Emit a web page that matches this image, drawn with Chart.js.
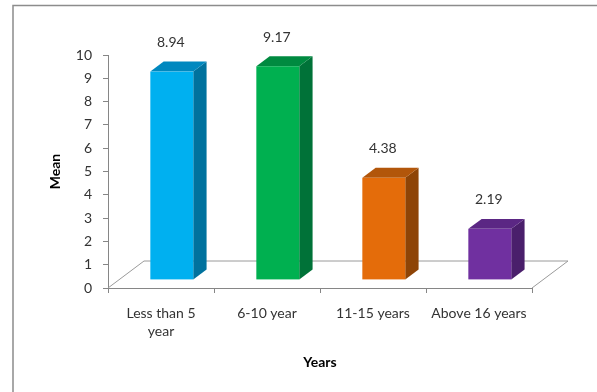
<!DOCTYPE html>
<html>
<head>
<meta charset="utf-8">
<style>
  html, body { margin: 0; padding: 0; background: #ffffff; }
  #wrap { width: 597px; height: 392px; position: relative; }
</style>
<script src="https://cdn.jsdelivr.net/npm/chart.js@4.4.1/dist/chart.umd.min.js"></script>
</head>
<body>
<div id="wrap"><canvas id="chart" width="597" height="392"></canvas></div>
<script>
// Experience groups and their mean scores
const categories = [['Less than 5', 'year'], '6-10 year', '11-15 years', 'Above 16 years'];
const meanValues = [8.94, 9.17, 4.38, 2.19];
const valueLabels = ['8.94', '9.17', '4.38', '2.19'];
const yTickValues = [0, 1, 2, 3, 4, 5, 6, 7, 8, 9, 10];

// Face / side / top shades for each bar
const faceColors = ['#00B0F0', '#00B050', '#E46C0A', '#7030A0'];
const sideColors = ['#00729E', '#007238', '#8E4406', '#4A1F6B'];
const topColors  = ['#0088BF', '#008A40', '#B2560A', '#5B2784'];

const FONT = 'Lato, "Open Sans", sans-serif';
const AXIS_GREY = '#868686';
const TEXT_COLOR = '#333333';

// Floor depth vector and where each bar sits inside that depth
const DEPTH_X = 36, DEPTH_Y = -27;
const BAR_FRONT = 0.3, BAR_BACK = 0.67;

const framePlugin = {
  id: 'frame',
  beforeDraw(chart) {
    const ctx = chart.ctx;
    ctx.save();
    ctx.strokeStyle = '#8c8c8c';
    ctx.lineWidth = 1.5;
    ctx.beginPath();
    ctx.moveTo(13, 392);
    ctx.lineTo(13, 5.5);
    ctx.lineTo(597, 5.5);
    ctx.stroke();
    ctx.restore();
  }
};

const bar3dPlugin = {
  id: 'bar3d',
  beforeDatasetsDraw(chart) {
    // floor outline behind the bars
    const { ctx, chartArea: a } = chart;
    ctx.save();
    ctx.strokeStyle = '#9a9a9a';
    ctx.lineWidth = 1;
    ctx.beginPath();
    ctx.moveTo(a.left, a.bottom);
    ctx.lineTo(a.left + DEPTH_X, a.bottom + DEPTH_Y);
    ctx.lineTo(a.right + DEPTH_X, a.bottom + DEPTH_Y);
    ctx.lineTo(a.right, a.bottom);
    ctx.stroke();
    ctx.restore();
  },
  afterDatasetsDraw(chart) {
    const ctx = chart.ctx;
    const meta = chart.getDatasetMeta(0);
    const fx = DEPTH_X * BAR_FRONT, fy = DEPTH_Y * BAR_FRONT;
    const sx = DEPTH_X * (BAR_BACK - BAR_FRONT), sy = DEPTH_Y * (BAR_BACK - BAR_FRONT);
    ctx.save();
    meta.data.forEach((el, i) => {
      const p = el.getProps(['x', 'y', 'base', 'width'], true);
      const l = p.x - p.width / 2 + fx, r = p.x + p.width / 2 + fx;
      const t = p.y + fy, b = p.base + fy;
      // right side
      ctx.fillStyle = sideColors[i];
      ctx.beginPath();
      ctx.moveTo(r, b); ctx.lineTo(r + sx, b + sy);
      ctx.lineTo(r + sx, t + sy); ctx.lineTo(r, t);
      ctx.closePath(); ctx.fill();
      // top
      ctx.fillStyle = topColors[i];
      ctx.beginPath();
      ctx.moveTo(l, t); ctx.lineTo(l + sx, t + sy);
      ctx.lineTo(r + sx, t + sy); ctx.lineTo(r, t);
      ctx.closePath(); ctx.fill();
      // front face
      ctx.fillStyle = faceColors[i];
      ctx.fillRect(l, t, r - l, b - t);
      // value label
      ctx.fillStyle = TEXT_COLOR;
      ctx.font = '14px ' + FONT;
      ctx.textAlign = 'center';
      ctx.textBaseline = 'middle';
      ctx.fillText(valueLabels[i], (l + r) / 2 - 1, t - 29);
    });
    ctx.restore();
  }
};

new Chart(document.getElementById('chart'), {
  type: 'bar',
  data: {
    labels: categories,
    datasets: [{
      data: meanValues,
      backgroundColor: 'rgba(0,0,0,0)',
      borderWidth: 0,
      categoryPercentage: 1,
      barPercentage: 0.405
    }]
  },
  options: {
    responsive: false,
    animation: false,
    devicePixelRatio: 1,
    layout: { padding: { left: 47, right: 65, top: 55, bottom: 21 } },
    plugins: { legend: { display: false }, tooltip: { enabled: false } },
    scales: {
      x: {
        offset: true,
        border: { display: true, color: AXIS_GREY, width: 1 },
        grid: { display: true, drawOnChartArea: false, drawTicks: true, tickLength: 5, color: AXIS_GREY, offset: true },
        ticks: {
          color: TEXT_COLOR, padding: 11, maxRotation: 0, autoSkip: false,
          font: { family: FONT, size: 14, lineHeight: '18px' }
        },
        title: {
          display: true, text: 'Years', color: '#000000', padding: 0,
          font: { family: FONT, size: 14, weight: 'bold', lineHeight: 1.2 }
        },
        afterFit(scale) { scale.height = 83; }
      },
      y: {
        min: 0, max: 10,
        afterBuildTicks(scale) { scale.ticks = yTickValues.map(v => ({ value: v })); },
        border: { display: true, color: AXIS_GREY, width: 1 },
        grid: { display: true, drawOnChartArea: false, drawTicks: true, tickLength: 5, color: AXIS_GREY },
        ticks: { color: TEXT_COLOR, padding: 11, font: { family: FONT, size: 14 } },
        title: {
          display: true, text: 'Mean', color: '#000000', padding: 0,
          font: { family: FONT, size: 14, weight: 'bold', lineHeight: 1.2 }
        },
        afterFit(scale) { scale.width = 61; }
      }
    }
  },
  plugins: [framePlugin, bar3dPlugin]
});
</script>
</body>
</html>
